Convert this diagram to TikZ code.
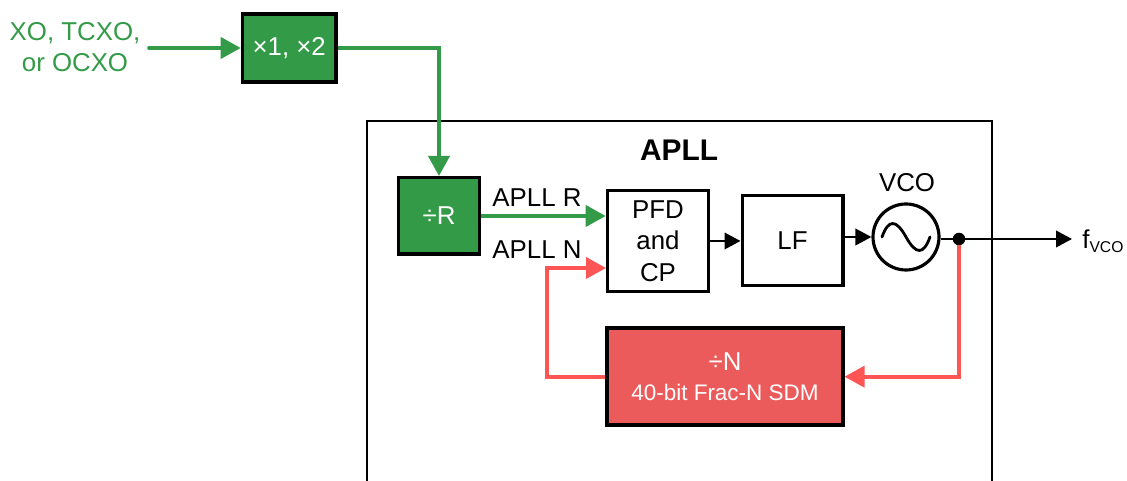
\documentclass[tikz,border=0pt]{standalone}
\usepackage{fontspec}
\setmainfont{Liberation Sans}
\usepackage{tikz}
\usetikzlibrary{arrows.meta, positioning}
\definecolor{clkgreen}{HTML}{339B47}
\definecolor{fbline}{HTML}{FF5555}
\definecolor{fbfill}{HTML}{EC5B5B}

\begin{document}
\begin{tikzpicture}[
    font=\fontsize{14.7}{18}\selectfont,
    block/.style={draw=black, line width=2pt, inner sep=0pt, align=center},
    lbl/.style={inner sep=0pt, align=center},
    greenline/.style={clkgreen, line width=2.1pt, -{Triangle[length=.4cm, width=.42cm]}},
    redline/.style={fbline, line width=2.1pt, -{Triangle[length=.4cm, width=.42cm]}},
    blackline/.style={black, line width=1.3pt, -{Triangle[length=.32cm, width=.33cm]}}
  ]
  \useasboundingbox (0,0) rectangle (22.54,9.62);

  % APLL outline, open at the bottom
  \draw[line width=1.6pt] (7.34,0) -- (7.34,7.2) -- (19.84,7.2) -- (19.84,0);
  \node[lbl, font=\fontsize{17}{20}\selectfont\bfseries] (apllname) at (13.58,6.62) {APLL};

  % Reference input
  \node[lbl, text=clkgreen] (refname) at (1.5,8.68) {XO, TCXO,\\or OCXO};
  \coordinate (refin) at (2.98,8.66);
  \node[block, fill=clkgreen, text=white, minimum width=1.87cm, minimum height=1.36cm] (dbl) at (5.785,8.66) {×1, ×2};
  \node[block, fill=clkgreen, text=white, minimum width=1.62cm, minimum height=1.53cm] (rdiv) at (8.78,5.3) {÷R};

  % Loop blocks
  \node[block, minimum width=2.02cm, minimum height=2.02cm] (pfd) at (13.16,4.8) {PFD\\and\\CP};
  \node[block, minimum width=2.01cm, minimum height=1.8cm] (lf) at (15.85,4.81) {LF};
  \node[draw, circle, line width=1.8pt, minimum size=1.32cm, inner sep=0pt] (vco) at (18.12,4.88) {};
  \node[lbl] (vconame) at (18.14,5.96) {VCO};
  \node[block, fill=fbfill, text=white, minimum width=4.71cm, minimum height=1.94cm] (ndiv) at (14.5,2.086)
    {\raisebox{-1pt}{÷N}\\{\fontsize{12.8}{15}\selectfont 40-bit Frac-N SDM}};

  % Sine in the oscillator
  \draw[line width=1.6pt, line cap=round, shift={(vco.center)}]
    (-.48,0) .. controls (-.35,.36) and (-.2,.36) .. (0,0) .. controls (.2,-.36) and (.35,-.36) .. (.48,0);

  % Output
  \node[circle, fill=black, inner sep=0pt, outer sep=0pt, minimum size=.25cm] (tap) at (19.18,4.84) {};
  \coordinate (fout) at (21.44,4.84);
  \node[lbl, anchor=west] (foutname) at (21.64,4.8) {f\textsubscript{\fontsize{8.9}{10}\selectfont VCO}};

  % Labels on the PFD inputs
  \node[lbl] (rname) at (10.74,5.66) {APLL R};
  \node[lbl] (nname) at (10.74,4.62) {APLL N};

  % Helpers for the feedback path
  \coordinate (nturn) at (10.94,4.26);
  \coordinate (pfdn) at (12.12,4.26);

  % Clock path
  \draw[greenline, line cap=round] (refin) -- (dbl.west);
  \draw[greenline] (dbl.east) -| (rdiv.north);
  \draw[greenline] (rdiv.east) -- (rdiv.east -| pfd.west);

  % Forward path
  \draw[blackline] (pfd.east) -- (pfd.east -| lf.west);
  \draw[blackline] (vco.west -| lf.east) -- (vco.west);
  \draw[line width=1.3pt] (tap -| vco.east) -- (tap);
  \draw[blackline] (tap) -- (fout);

  % Feedback path
  \draw[redline] (tap.south) |- (ndiv.east);
  \draw[redline] (ndiv.west) -| (nturn) -- (pfdn);
\end{tikzpicture}
\end{document}
